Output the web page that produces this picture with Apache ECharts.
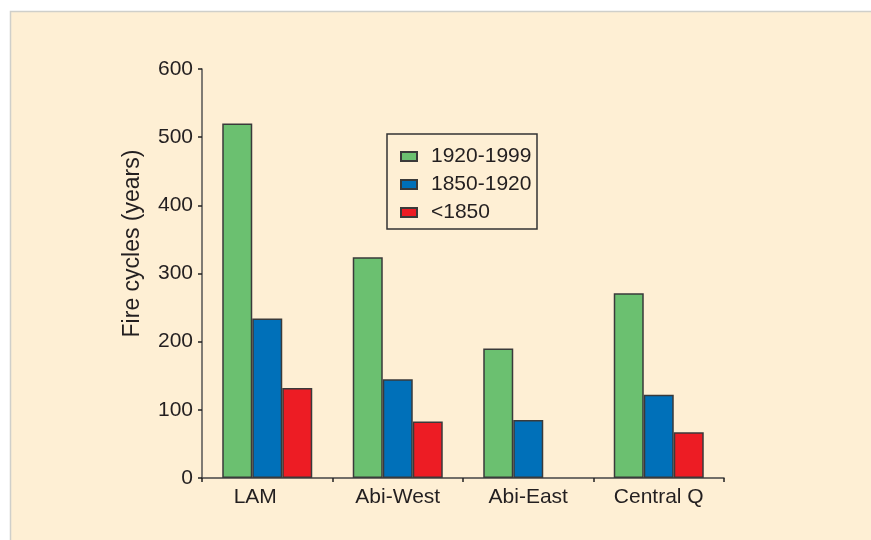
<!DOCTYPE html>
<html>
<head>
<meta charset="utf-8">
<script src="https://cdn.jsdelivr.net/npm/echarts@6/dist/echarts.min.js"></script>
<style>
html,body{margin:0;padding:0;background:#fff;}
#c{width:871px;height:540px;}
</style>
</head>
<body>
<div id="c"></div>
<script>
var categories = ['LAM', 'Abi-West', 'Abi-East', 'Central Q'];
var seriesNames = ['1920-1999', '1850-1920', '<1850'];
var values1920_1999 = [520, 324, 190, 271];
var values1850_1920 = [234, 145, 85, 122];
var valuesBefore1850 = [132, 83, null, 67];
var yTicks = [0, 100, 200, 300, 400, 500, 600];
var colors = ['#6bc070', '#0070b9', '#ed1c24'];

var font = 'Liberation Sans, Arial, sans-serif';
var txt = '#231f20';
var chart = echarts.init(document.getElementById('c'), null, {renderer: 'canvas'});
var allValues = [values1920_1999, values1850_1920, valuesBefore1850];
var series = seriesNames.map(function (n, i) {
  return {
    name: n,
    type: 'bar',
    data: allValues[i],
    barWidth: 30,
    barGap: '0%',
    itemStyle: {color: colors[i], borderColor: '#3a3a3a', borderWidth: 1.5},
    emphasis: {disabled: true}
  };
});
var catData = categories.map(function (c, i) {
  return i === 0 ? {value: c, textStyle: {padding: [0, 24, 0, 0]}} : c;
});
chart.setOption({
  animation: false,
  backgroundColor: '#fff',
  textStyle: {fontFamily: font},
  graphic: [
    {type: 'rect', z: -10, shape: {x: 10.5, y: 11.5, width: 900, height: 600},
     style: {fill: '#feefd4', stroke: '#cfcfca', lineWidth: 1.5}},
    {type: 'rect', z: 10, shape: {x: 387, y: 134, width: 150, height: 95},
     style: {fill: 'none', stroke: '#333', lineWidth: 1.5}}
  ],
  legend: {
    orient: 'vertical',
    left: 387,
    top: 134,
    padding: [12, 6, 6, 13],
    itemWidth: 16,
    itemHeight: 9,
    itemGap: 7,
    icon: 'rect',
    selectedMode: false,
    data: seriesNames,
    textStyle: {fontSize: 21, color: txt, fontFamily: font, lineHeight: 21, padding: [0, 0, 0, 9]}
  },
  grid: {left: 202, right: 147, top: 69, bottom: 62, containLabel: false},
  xAxis: {
    type: 'category',
    data: catData,
    axisLine: {lineStyle: {color: '#444', width: 1.5}},
    axisTick: {show: true, length: 4, lineStyle: {color: '#222', width: 1.5}},
    axisLabel: {fontSize: 21, color: txt, fontFamily: font, margin: 9}
  },
  yAxis: {
    type: 'value',
    min: yTicks[0],
    max: yTicks[yTicks.length - 1],
    interval: 100,
    name: 'Fire cycles (years)',
    nameLocation: 'middle',
    nameGap: 58,
    nameTextStyle: {fontSize: 23, color: txt, fontFamily: font, padding: [0, 0, 0, 60]},
    splitLine: {show: false},
    axisLine: {show: true, lineStyle: {color: '#555', width: 1.5}},
    axisTick: {show: true, length: 4, lineStyle: {color: '#222', width: 1.5}},
    axisLabel: {fontSize: 21, color: txt, fontFamily: font, margin: 9, padding: [0, 0, 10, 0]}
  },
  series: series
});
</script>
</body>
</html>
